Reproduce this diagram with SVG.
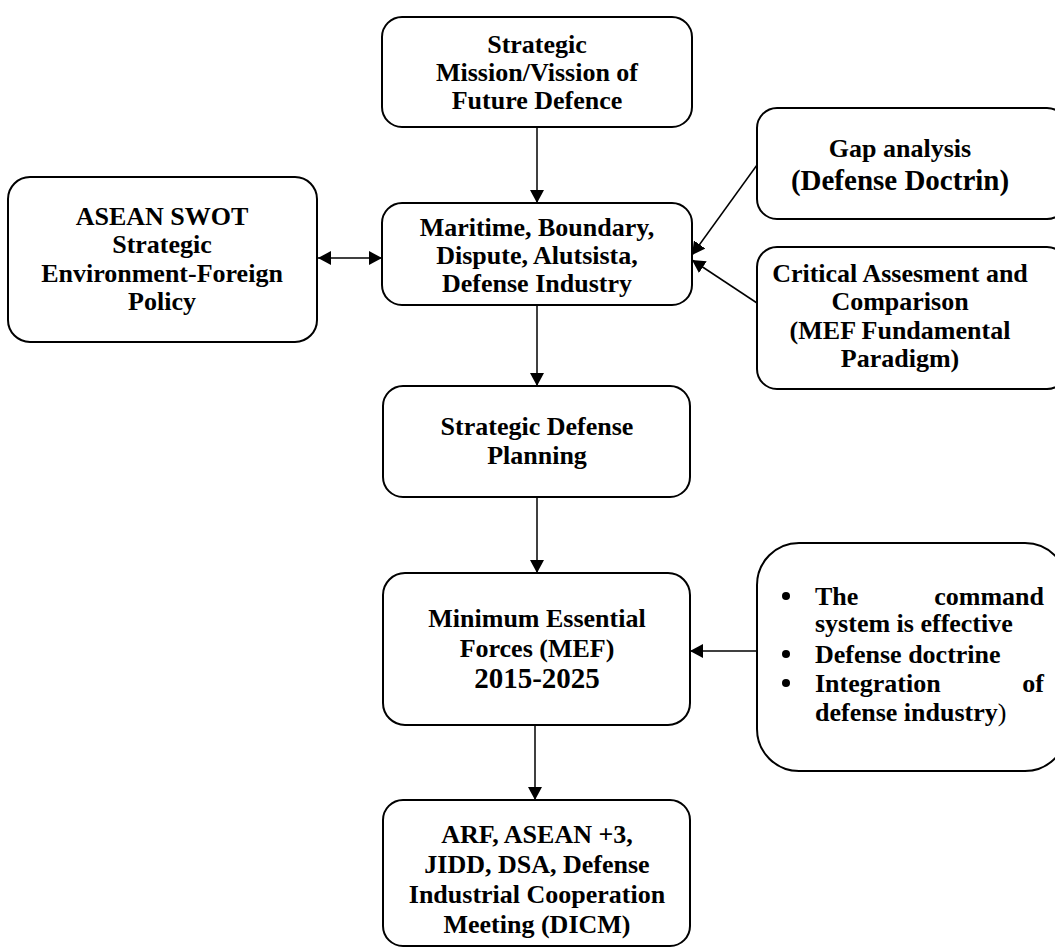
<svg xmlns="http://www.w3.org/2000/svg" width="1055" height="948" viewBox="0 0 1055 948">
<defs>
<marker id="ah" markerUnits="userSpaceOnUse" markerWidth="14" markerHeight="14" refX="13" refY="7" orient="auto-start-reverse">
<path d="M0,0 L13,7 L0,14 z" fill="#000"/>
</marker>
<style>
.box{fill:#fff;stroke:#000;stroke-width:2}
.t{font-family:"Liberation Serif","Times New Roman",serif;font-weight:bold;font-size:26px;fill:#000;text-anchor:middle}
.big{font-size:29px}
.l{text-anchor:start}
.e{text-anchor:end}
.c{stroke:#000;stroke-width:1.5;fill:none;marker-end:url(#ah)}
.dot{fill:#000}
</style>
</defs>
<rect width="1055" height="948" fill="#fff"/>
<g id="connectors">
<line class="c" x1="537" y1="127" x2="537" y2="203"/>
<line class="c" x1="318" y1="258" x2="382" y2="258" style="marker-start:url(#ah)"/>
<line class="c" x1="757" y1="165" x2="692" y2="255"/>
<line class="c" x1="757" y1="303" x2="692" y2="260"/>
<line class="c" x1="537" y1="305" x2="537" y2="386"/>
<line class="c" x1="537" y1="497" x2="537" y2="573"/>
<line class="c" x1="757" y1="651" x2="690" y2="651"/>
<line class="c" x1="535" y1="725" x2="535" y2="800"/>
</g>
<g id="mission">
<rect class="box" x="382" y="17" width="310" height="110" rx="20"/>
<text class="t" x="537" y="53">Strategic</text>
<text class="t" x="537" y="81">Mission/Vission of</text>
<text class="t" x="537" y="109">Future Defence</text>
</g>
<g id="maritime">
<rect class="box" x="382" y="203" width="310" height="102" rx="20"/>
<text class="t" x="537" y="236">Maritime, Boundary,</text>
<text class="t" x="537" y="264">Dispute, Alutsista,</text>
<text class="t" x="537" y="292">Defense Industry</text>
</g>
<g id="asean">
<rect class="box" x="8" y="177" width="309" height="165" rx="22"/>
<text class="t" x="162" y="225">ASEAN SWOT</text>
<text class="t" x="162" y="253">Strategic</text>
<text class="t" x="162" y="282">Environment-Foreign</text>
<text class="t" x="162" y="310">Policy</text>
</g>
<g id="gap">
<rect class="box" x="757" y="108" width="310" height="111" rx="20"/>
<text class="t" x="900" y="157">Gap analysis</text>
<text class="t big" x="900" y="190">(Defense Doctrin)</text>
</g>
<g id="critical">
<rect class="box" x="757" y="247" width="310" height="142" rx="20"/>
<text class="t" x="900" y="282">Critical Assesment and</text>
<text class="t" x="900" y="310">Comparison</text>
<text class="t" x="900" y="339">(MEF Fundamental</text>
<text class="t" x="900" y="367">Paradigm)</text>
</g>
<g id="planning">
<rect class="box" x="383" y="386" width="307" height="111" rx="20"/>
<text class="t" x="537" y="435">Strategic Defense</text>
<text class="t" x="537" y="464">Planning</text>
</g>
<g id="mef">
<rect class="box" x="383" y="573" width="307" height="152" rx="22"/>
<text class="t" x="537" y="627">Minimum Essential</text>
<text class="t" x="537" y="657">Forces (MEF)</text>
<text class="t big" x="537" y="688">2015-2025</text>
</g>
<g id="factors">
<rect class="box" x="757" y="543" width="310" height="228" rx="42"/>
<circle class="dot" cx="786" cy="596" r="4"/>
<circle class="dot" cx="786" cy="654" r="4"/>
<circle class="dot" cx="786" cy="683" r="4"/>
<text class="t l" x="815" y="605">The</text>
<text class="t e" x="1044" y="605">command</text>
<text class="t l" x="815" y="632">system is effective</text>
<text class="t l" x="815" y="663">Defense doctrine</text>
<text class="t l" x="815" y="692">Integration</text>
<text class="t e" x="1044" y="692">of</text>
<text class="t l" x="815" y="721">defense industry<tspan font-weight="normal">)</tspan></text>
</g>
<g id="arf">
<rect class="box" x="383" y="800" width="307" height="146" rx="20"/>
<text class="t" x="537" y="843">ARF, ASEAN +3,</text>
<text class="t" x="537" y="873">JIDD, DSA, Defense</text>
<text class="t" x="537" y="903">Industrial Cooperation</text>
<text class="t" x="537" y="933">Meeting (DICM)</text>
</g>
</svg>
